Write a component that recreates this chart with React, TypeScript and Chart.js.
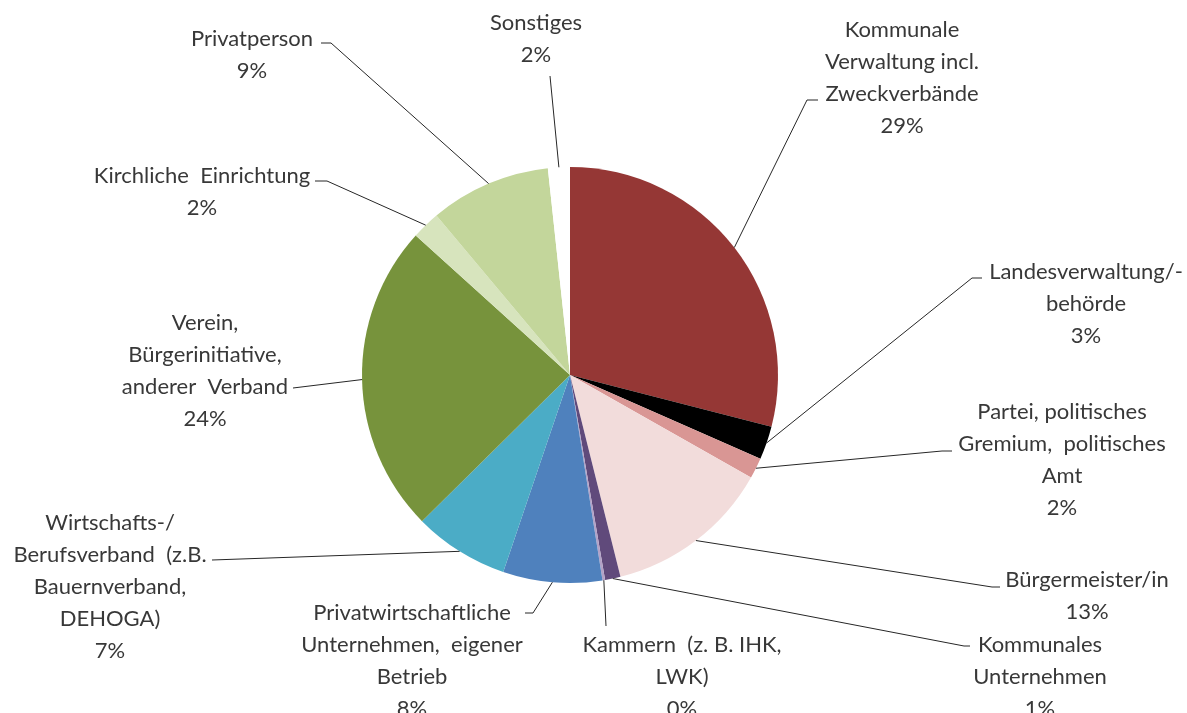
import React, { useEffect, useRef } from "react";
import { Chart, registerables } from "chart.js";

Chart.register(...registerables);

// ---- data ----
const categories: string[] = [
  "Kommunale\nVerwaltung incl.\nZweckverbände",
  "Landesverwaltung/-\nbehörde",
  "Partei, politisches\nGremium,  politisches\nAmt",
  "Bürgermeister/in",
  "Kommunales\nUnternehmen",
  "Kammern  (z. B. IHK,\nLWK)",
  "Privatwirtschaftliche\nUnternehmen,  eigener\nBetrieb",
  "Wirtschafts-/\nBerufsverband  (z.B.\nBauernverband,\nDEHOGA)",
  "Verein,\nBürgerinitiative,\nanderer  Verband",
  "Kirchliche  Einrichtung",
  "Privatperson",
  "Sonstiges",
];

const shares: number[] = [29.0, 2.6, 1.6, 12.9, 1.2, 0.2, 7.7, 7.4, 24.1, 2.2, 9.4, 1.7];

const sliceColors: string[] = [
  "#953735",
  "#000000",
  "#D99694",
  "#F2DCDB",
  "#604A7B",
  "#B3A2C7",
  "#4F81BD",
  "#4BACC6",
  "#77933C",
  "#D7E4BD",
  "#C3D69B",
  "#FFFFFF",
];

// ---- label layout (text centre x, first line y, leader start, stub) ----
const labelCenterX: number[] = [902, 1086, 1062, 1087, 1040, 682, 412, 110, 205, 202, 252, 536];
const labelTopY: number[] = [30, 272, 412, 580, 645, 645, 613, 523, 323, 176, 39, 23];
const leaderStart: [number, number][] = [
  [818, 100], [982, 278], [952, 451], [1000, 587], [970, 646], [606, 626],
  [525, 613], [212, 560], [293, 388], [315, 181], [321, 43], [550, 76],
];
const leaderStub: number[] = [-11, -10, -10, -8, -6, 0, 8, 0, 0, 12, 10, 0];
const LINE_GAP = 32;

export default function App() {
  const ref = useRef<HTMLCanvasElement | null>(null);

  useEffect(() => {
    document.body.style.margin = "0";
    const canvas = ref.current;
    if (!canvas) return;
    const total = shares.reduce((a, b) => a + b, 0);

    const labelPlugin = {
      id: "excelLabels",
      afterDraw(chart: any) {
        const ctx = chart.ctx as CanvasRenderingContext2D;
        const meta = chart.getDatasetMeta(0);
        ctx.save();
        // leader lines: label edge -> short horizontal stub -> slice edge
        ctx.strokeStyle = "#262626";
        ctx.lineWidth = 1;
        meta.data.forEach((arc: any, i: number) => {
          const p = arc.getProps(["x", "y", "startAngle", "endAngle", "outerRadius"], true);
          const mid = (p.startAngle + p.endAngle) / 2;
          const ex = p.x + Math.cos(mid) * p.outerRadius;
          const ey = p.y + Math.sin(mid) * p.outerRadius;
          const [sx, sy] = leaderStart[i];
          ctx.beginPath();
          ctx.moveTo(sx, sy);
          ctx.lineTo(sx + leaderStub[i], sy);
          ctx.lineTo(ex, ey);
          ctx.stroke();
        });
        // texts
        ctx.fillStyle = "#383838";
        ctx.font = "22px Lato, 'Open Sans', sans-serif";
        ctx.textAlign = "center";
        ctx.textBaseline = "middle";
        categories.forEach((cat, i) => {
          const lines = cat.split("\n");
          lines.push(Math.round((shares[i] / total) * 100) + "%");
          lines.forEach((ln, k) => {
            ctx.fillText(ln, labelCenterX[i], labelTopY[i] + k * LINE_GAP);
          });
        });
        ctx.restore();
      },
    };

    const chart = new Chart(canvas, {
      type: "pie",
      data: {
        labels: categories.map((c) => c.replace(/\n/g, " ")),
        datasets: [
          {
            data: shares,
            backgroundColor: sliceColors,
            borderWidth: 0,
            hoverBorderWidth: 0,
            hoverOffset: 0,
          },
        ],
      },
      options: {
        responsive: false,
        devicePixelRatio: 1,
        animation: false,
        events: [],
        layout: { padding: { top: 167, bottom: 130, left: 0, right: 47 } },
        plugins: {
          legend: { display: false },
          tooltip: { enabled: false },
          title: { display: false },
        },
      },
      plugins: [labelPlugin],
    });

    return () => chart.destroy();
  }, []);

  return (
    <div style={{ width: 1187, height: 713, background: "#ffffff" }}>
      <canvas ref={ref} width={1187} height={713} style={{ display: "block" }} />
    </div>
  );
}
